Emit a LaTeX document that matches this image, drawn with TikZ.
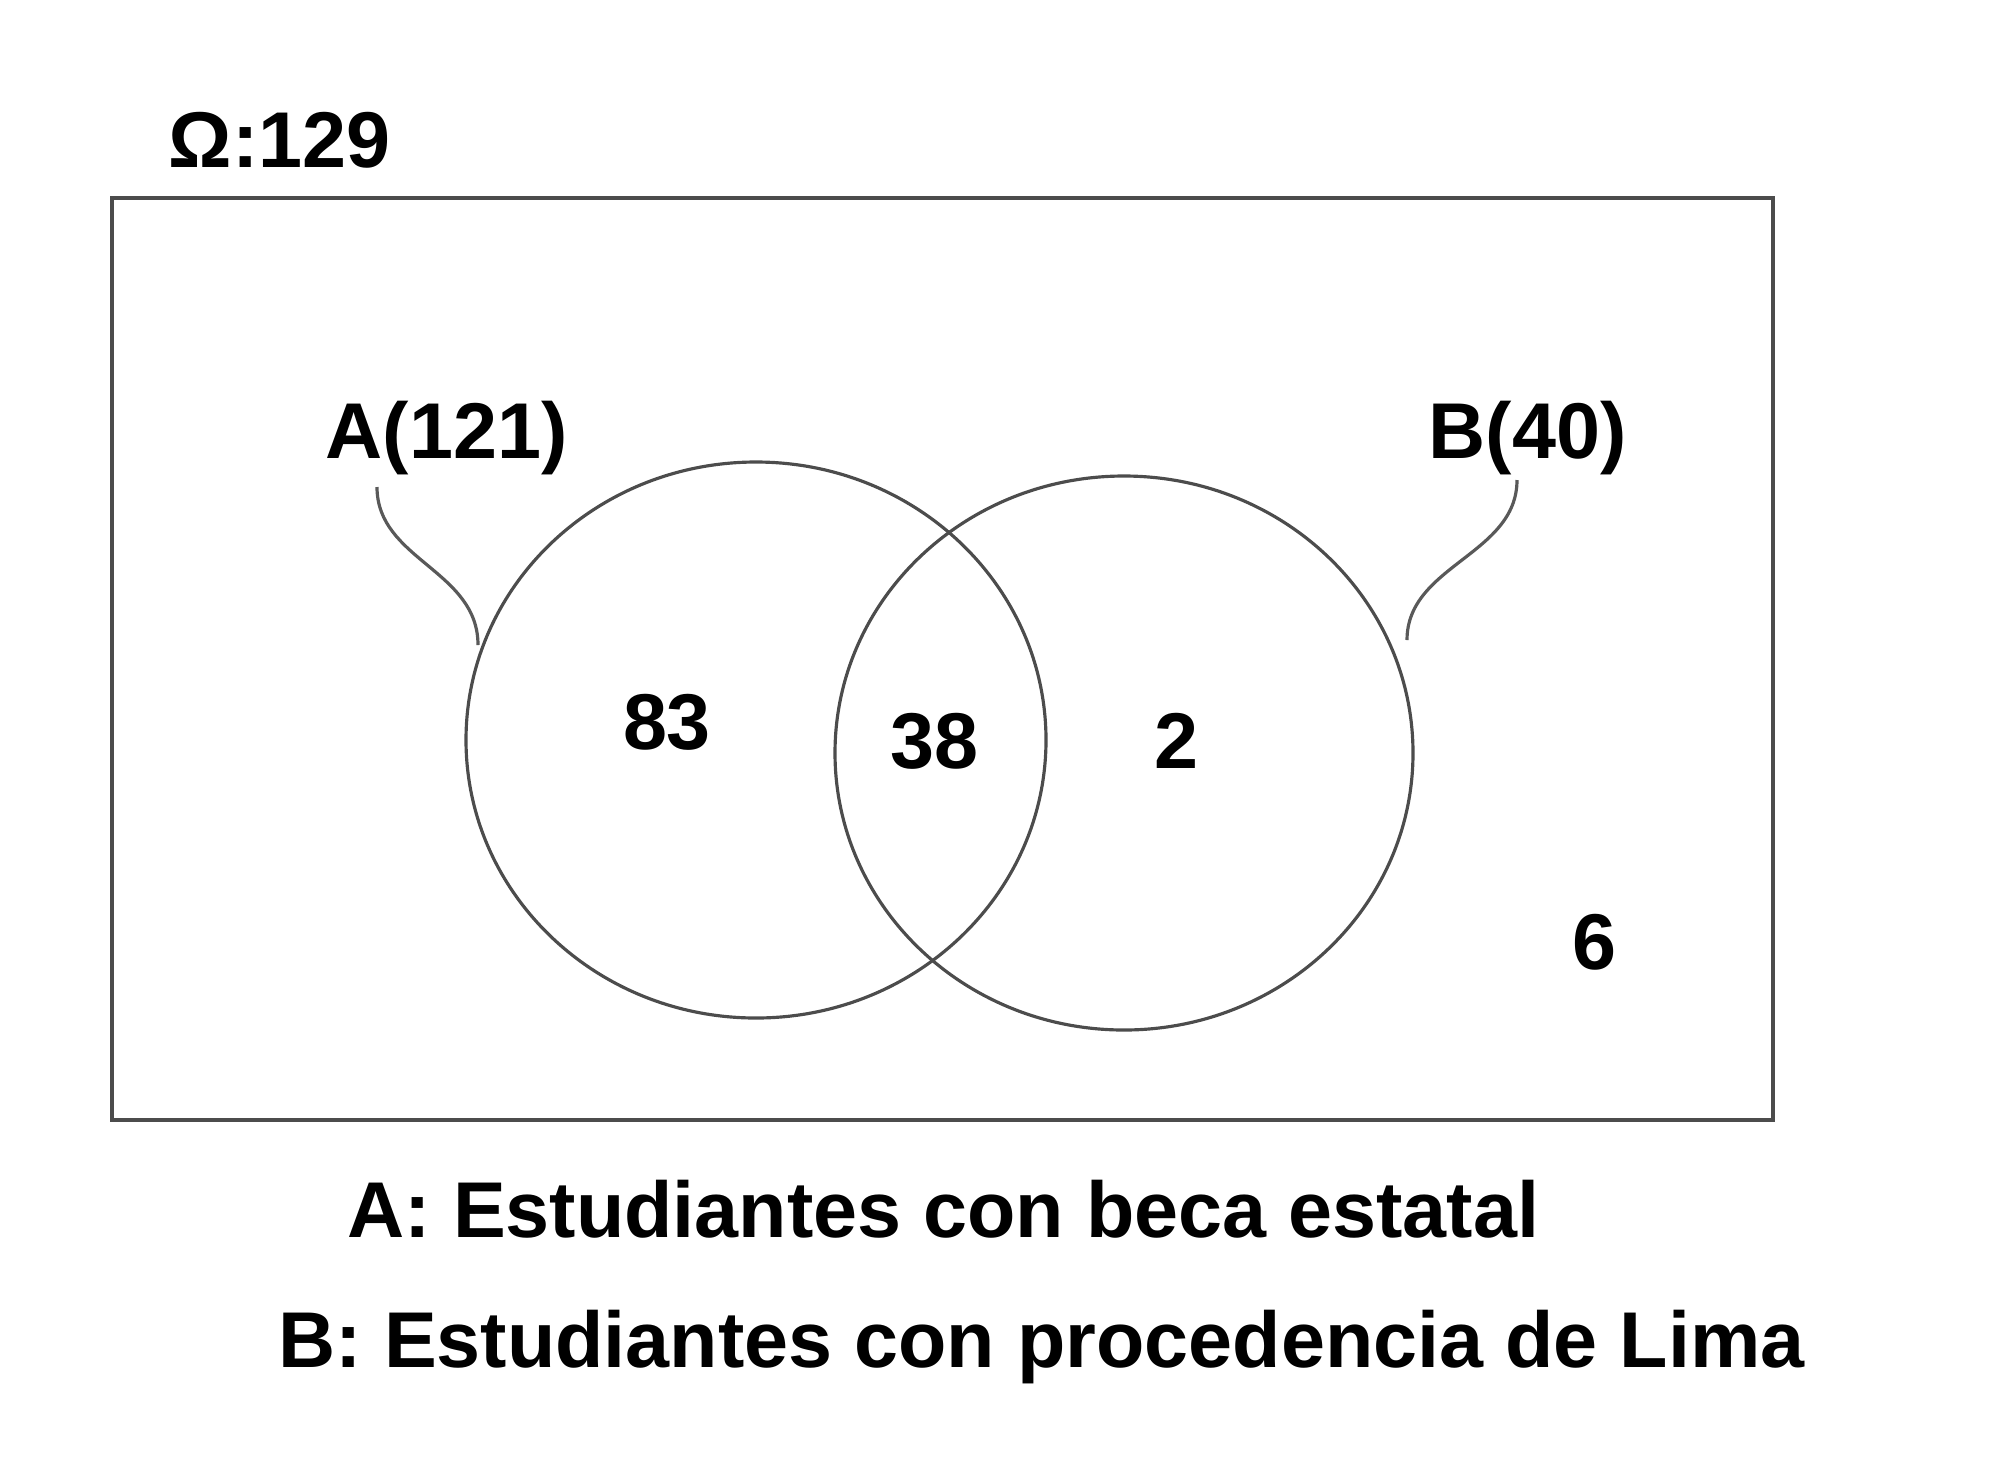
\documentclass[tikz,border=0pt]{standalone}
\usepackage{fontspec}
\setmainfont{Liberation Sans}
\begin{document}
\begin{tikzpicture}[x=0.01cm,y=-0.01cm,
  lbl/.style={font=\fontsize{22.5}{27}\selectfont\bfseries, inner sep=0pt, text=black},
  edge/.style={draw=black!70, line width=0.9pt},
  bracket/.style={draw=black!65, line width=0.9pt}]
\useasboundingbox (0,0) rectangle (2000,1469);
\draw[edge] (112,198) rectangle (1773,1120);
\node[lbl, anchor=base west] (omega) at (168,167) {Ω:129};
\draw[edge] (756,740) ellipse [x radius=290, y radius=278];
\draw[edge] (1124,753) ellipse [x radius=289, y radius=277];
\node[lbl, anchor=base west] (la) at (325,458) {A(121)};
\node[lbl, anchor=base west] (lb) at (1428,458) {B(40)};
\coordinate (a1) at (377,487);
\coordinate (a2) at (478,645);
\coordinate (b1) at (1517,480);
\coordinate (b2) at (1407,640);
\draw[bracket] (a1) .. controls (377,560) and (478,570) .. (a2);
\draw[bracket] (b1) .. controls (1517,555) and (1407,565) .. (b2);
\node[lbl, anchor=base] (n83) at (667,749) {83};
\node[lbl, anchor=base] (n38) at (934,768) {38};
\node[lbl, anchor=base] (n2) at (1176,768) {2};
\node[lbl, anchor=base] (n6) at (1594,969) {6};
\node[lbl, anchor=base west] (ta) at (347,1237) {A: Estudiantes con beca estatal};
\node[lbl, anchor=base west] (tb) at (278,1367) {B: Estudiantes con procedencia de Lima};
\end{tikzpicture}
\end{document}
